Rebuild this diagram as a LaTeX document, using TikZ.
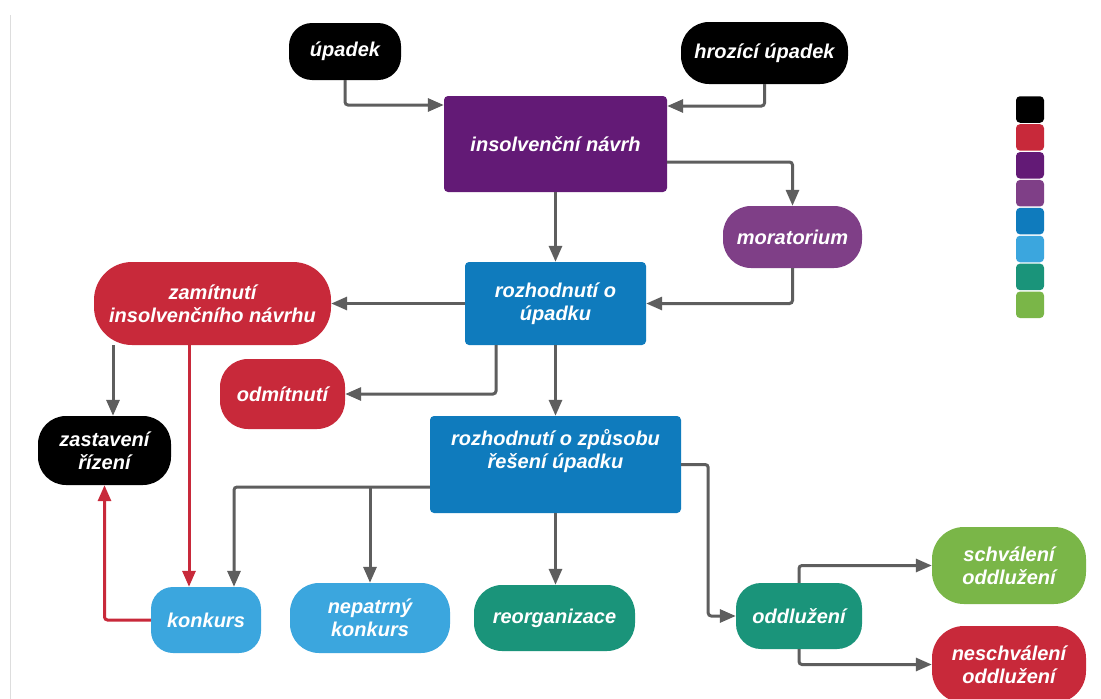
\documentclass[tikz,border=0pt]{standalone}
\usepackage{fontspec}
\setmainfont{Liberation Sans}
\usetikzlibrary{arrows.meta,calc}
\definecolor{cblack}{HTML}{000000}
\definecolor{cred}{HTML}{C8293A}
\definecolor{cdpurple}{HTML}{631A76}
\definecolor{cpurple}{HTML}{7F3F87}
\definecolor{cblue}{HTML}{0F7BBD}
\definecolor{clblue}{HTML}{3BA6DE}
\definecolor{cteal}{HTML}{1A947A}
\definecolor{cgreen}{HTML}{7AB648}
\definecolor{arrgray}{HTML}{5E5E5E}
\definecolor{sidegray}{HTML}{DDDDDD}
\tikzset{
  box/.style={fill=#1, text=white, align=center, inner sep=0pt, rounded corners=4pt},
  pill/.style={box=#1, rounded corners=22pt},
  arr/.style={draw=arrgray, line width=3pt, rounded corners=3pt,
    -{Triangle[length=16pt,width=13pt]}},
  redarr/.style={arr, draw=cred, fill=none},
  legbox/.style={fill=#1, inner sep=0pt, minimum width=28pt, minimum height=26.5pt, rounded corners=4pt},
}
\begin{document}
\begin{tikzpicture}[x=1pt,y=-1pt,font=\fontsize{20}{23}\selectfont\bfseries\itshape]
\useasboundingbox[fill=white] (0,0) rectangle (1101,699);
\draw[sidegray, line width=1pt] (10,15) -- (10,699);

% nodes
\node[pill=cblack, minimum width=112pt, minimum height=57pt, rounded corners=23pt] (upadek) at (345,51.5) {úpadek};
\node[pill=cblack, minimum width=167pt, minimum height=62pt, rounded corners=28pt] (hrozici) at (764.5,53) {hrozící úpadek};
\node[box=cdpurple, minimum width=223pt, minimum height=96pt] (insolv) at (555.5,144) {insolvenční návrh};
\node[pill=cpurple, minimum width=139pt, minimum height=62pt, rounded corners=28pt] (morat) at (792.5,237) {moratorium};
\node[box=cblue, minimum width=181pt, minimum height=83pt] (rozh) at (555.5,303.5) {rozhodnutí o\\úpadku};
\node[pill=cred, minimum width=237pt, minimum height=83pt, rounded corners=38pt] (zamit) at (212.5,303.5) {zamítnutí\\insolvenčního návrhu};
\node[pill=cred, minimum width=125pt, minimum height=70pt, rounded corners=28pt] (odmit) at (282.5,394) {odmítnutí};
\node[pill=cblack, minimum width=133pt, minimum height=69pt, rounded corners=28pt] (zast) at (104.5,450.5) {zastavení\\řízení};
\node[box=cblue, minimum width=251pt, minimum height=97pt] (rozh2) at (555.5,464.5) {rozhodnutí o způsobu\\řešení úpadku\\[8pt]};
\node[pill=clblue, minimum width=110pt, minimum height=66pt] (konk) at (206,620) {konkurs};
\node[pill=clblue, minimum width=160pt, minimum height=70pt, rounded corners=29pt] (nepat) at (370,618) {nepatrný\\konkurs};
\node[pill=cteal, minimum width=161pt, minimum height=66pt, rounded corners=28pt] (reorg) at (554.5,618) {reorganizace};
\node[pill=cteal, minimum width=126pt, minimum height=66pt, rounded corners=25pt] (oddl) at (799,616) {oddlužení};
\node[pill=cgreen, minimum width=154pt, minimum height=77pt, rounded corners=32pt] (schv) at (1009,565.5) {schválení\\oddlužení};
\node[pill=cred, minimum width=154pt, minimum height=77pt, rounded corners=32pt] (neschv) at (1009,664.5) {neschválení\\oddlužení};

% legend
\node[legbox=cblack]   (leg1) at (1030,109.5) {};
\node[legbox=cred]     (leg2) at (1030,137.4) {};
\node[legbox=cdpurple] (leg3) at (1030,165.3) {};
\node[legbox=cpurple]  (leg4) at (1030,193.2) {};
\node[legbox=cblue]    (leg5) at (1030,221.1) {};
\node[legbox=clblue]   (leg6) at (1030,249.0) {};
\node[legbox=cteal]    (leg7) at (1030,276.9) {};
\node[legbox=cgreen]   (leg8) at (1030,304.8) {};

% connectors
\draw[arr] (upadek.south) |- ([yshift=39pt]insolv.west);
\draw[arr] (hrozici.south) |- ([yshift=38pt]insolv.east);
\draw[arr] ([yshift=-18pt]insolv.east) -| (morat.north);
\draw[arr] (insolv.south) -- (rozh.north);
\draw[arr] (morat.south) |- (rozh.east);
\draw[arr] (rozh.west) -- (zamit.east);
\draw[arr] ([xshift=-59.5pt]rozh.south) |- (odmit.east);
\draw[arr] (rozh.south) -- (rozh2.north);
\draw[arr] ([xshift=-99.5pt]zamit.south) -- ([xshift=8.5pt]zast.north);
\draw[redarr] ([xshift=-23.5pt]zamit.south) -- ([xshift=-17pt]konk.north);
\draw[redarr] (konk.west) -| (zast.south);
\coordinate (br) at ([yshift=-22.5pt]rozh2.west);
\draw[arr] (br) -| ([xshift=28pt]konk.north);
\draw[arr] (br -| nepat.north) -- (nepat.north);
\draw[arr] (rozh2.south) -- (rozh2.south |- reorg.north);
\draw[arr] (rozh2.east) -- ++(27,0) |- (oddl.west);
\draw[arr] (oddl.north) |- (schv.west);
\draw[arr] (oddl.south) |- (neschv.west);
\end{tikzpicture}
\end{document}
